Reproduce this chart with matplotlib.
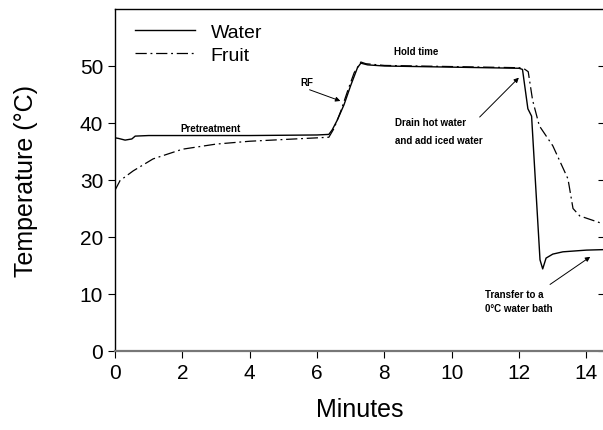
import matplotlib
matplotlib.use('Agg')
import matplotlib.pyplot as plt

plt.rcParams['font.family'] = ['Liberation Sans', 'DejaVu Sans']

# Water temperature (solid)
water_t = [0.0, 0.1, 0.3, 0.5, 0.6, 1.0, 2.0, 4.0, 6.0, 6.35, 6.45, 6.6, 6.8, 7.0, 7.2, 7.3, 7.5,
           8.0, 10.0, 12.0, 12.1, 12.26, 12.37, 12.62, 12.7, 12.8, 13.0, 13.3, 14.0, 14.6]
water_T = [37.4, 37.3, 37.0, 37.2, 37.7, 37.8, 37.8, 37.8, 37.9, 38.0, 38.8, 40.5, 43.2, 46.6, 49.7, 50.5, 50.2,
           50.0, 49.8, 49.6, 49.4, 42.5, 41.2, 16.0, 14.4, 16.3, 17.0, 17.4, 17.7, 17.8]

# Fruit temperature (dash-dot)
fruit_t = [0.0, 0.15, 0.54, 1.13, 2.0, 3.0, 4.0, 5.0, 6.35, 6.5, 6.7, 6.9, 7.1, 7.3, 7.45, 8.0,
           10.0, 12.0, 12.15, 12.27, 12.4, 12.6, 13.0, 13.45, 13.6, 13.8, 14.6]
fruit_T = [28.2, 29.9, 31.6, 33.7, 35.4, 36.3, 36.8, 37.1, 37.5, 39.0, 42.0, 45.5, 48.8, 50.7, 50.4, 50.1,
           49.9, 49.7, 49.5, 49.0, 44.0, 39.5, 36.0, 30.2, 25.0, 23.7, 22.1]

fig = plt.figure(figsize=(6.03, 4.31), dpi=100)
ax = fig.add_axes([115/603, 1 - 352/431, 490/603, 342/431])

ax.plot(water_t, water_T, color='black', linewidth=1.0, ls='-', label='Water')
ax.plot(fruit_t, fruit_T, color='black', linewidth=0.9, ls=(0, (9, 3, 1.5, 3)), label='Fruit')

ax.set_xlim(0, 14.55)
ax.set_ylim(0, 60)
ax.set_xticks([0, 2, 4, 6, 8, 10, 12, 14])
ax.set_yticks([0, 10, 20, 30, 40, 50])
ax.tick_params(axis='both', labelsize=15, length=5, width=0.8, direction='out')
ax.tick_params(axis='y', right=True, which='both')
for t in ax.yaxis.get_ticklines()[1::2]:
    t.set_marker(0)  # right ticks point inward
ax.spines['bottom'].set_color('#777777')
ax.spines['bottom'].set_linewidth(1.6)
ax.spines['left'].set_linewidth(1.0)
ax.spines['top'].set_linewidth(1.0)

ax.set_xlabel('Minutes', fontsize=18, labelpad=11)
ax.set_ylabel('Temperature (°C)', fontsize=18, labelpad=30)

ax.legend(loc='upper left', bbox_to_anchor=(0.005, 1.01), frameon=False, fontsize=14,
          handlelength=3.1, handletextpad=0.8, labelspacing=0.3)

bold = dict(fontsize=7, fontweight='bold')
ax.text(2.85, 39.2, 'Pretreatment', ha='center', va='center', **bold)
ax.text(5.7, 47.2, 'RF', ha='center', va='center', **bold)
ax.text(8.93, 52.6, 'Hold time', ha='center', va='center', **bold)
ax.text(8.3, 40.2, 'Drain hot water', ha='left', va='center', **bold)
ax.text(8.3, 37.0, 'and add iced water', ha='left', va='center', **bold)
ax.text(10.98, 10.0, 'Transfer to a', ha='left', va='center', **bold)
ax.text(10.98, 7.6, '0°C water bath', ha='left', va='center', **bold)

arr = dict(arrowstyle='-|>', color='black', lw=0.7, mutation_scale=7)
ax.annotate('', xy=(6.77, 43.7), xytext=(5.7, 46.0), arrowprops=arr)
ax.annotate('', xy=(12.05, 48.3), xytext=(10.77, 40.7), arrowprops=arr)
ax.annotate('', xy=(14.18, 16.8), xytext=(12.85, 11.4), arrowprops=arr)

fig.savefig('out.png', dpi=100)
